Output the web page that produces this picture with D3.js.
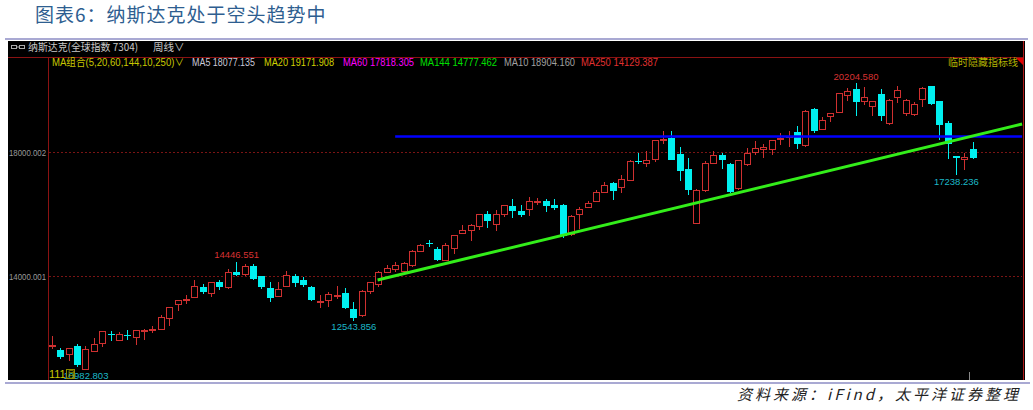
<!DOCTYPE html>
<html><head><meta charset="utf-8">
<script src="https://cdn.jsdelivr.net/npm/d3@7"></script>
<style>html,body{margin:0;padding:0;background:#fff;overflow:hidden}</style>
</head><body><svg id="c" width="1033" height="410"></svg>
<script>
// ---- data (weekly candles) ----
const opens = [11740,11610,11470,11710,11000,11580,11830,12105,11925,12095,12010,12215,12240,12280,12640,13085,13215,13300,13622,13445,13785,13622,14129,14054,14322,13968,13591,13332,13655,13978,13861,13645,13160,13194,13323,13441,12925,12710,13484,13732,14107,14216,14139,14323,14784,15035,14860,14516,14881,15377,15452,15590,15990,15668,15990,16258,16065,16152,16375,16397,16281,16281,15345,15990,16204,16397,16687,16977,16848,17087,17700,17645,17765,18370,18429,17926,17442,15700,16774,17635,17894,17603,16816,17581,17977,18065,18087,18420,18461,18645,18194,19377,18710,19139,19268,19829,20023,19645,19461,19861,18926,19752,19248,19216,19700,20106,19613,18926,17850,17765,18065];
const highs = [12040,11650,11670,11800,11710,11990,12195,12200,12170,12226,12235,12280,12355,12710,12980,13220,13355,13861,13710,13780,13839,14215,14446.551,14355,14355,14000,13785,13785,14139,14054,13946,13677,13355,13462,13677,13603,13140,13538,13800,14139,14345,14430,14420,14829,15022,15152,14914,15054,15320,15645,15660,16000,16065,16129,16290,16452,16281,16548,16494,16474,16474,16300,15960,16204,16419,16765,17010,17010,17226,17732,17945,18032,18370,18677,18655,18139,17797,16780,17687,18032,17945,17635,17720,18119,18332,18248,18370,18600,18677,18816,19323,19390,19106,19245,19900,20042,20204.58,20074,19640,20023,19680,20129,19680,19590,20070,20129,19630,19000,17860,17945,18300];
const lows = [11640,11300,11240,11040,10982.803,11540,11700,11900,11900,11935,11774,11905,12140,12226,12387,12870,13065,13290,13410,13300,13538,13570,14000,13968,13861,13570,13140,13300,13623,13623,13645,13171,12945,12977,13248,12925,12543.856,12657,13409,13645,14090,14107,14075,14290,14752,14935,14462,14500,14700,15323,15129,15452,15526,15430,15882,15862,15903,15935,16281,16042,16097,15220,15260,15506,16180,16380,16667,16442,16655,17070,17581,17494,17655,18248,17710,17042,16581,15690,16687,17620,17442,16655,16742,17548,17894,17784,17894,18200,18139,18065,18139,18603,18700,18945,19260,19645,19161,19516,19139,19000,18839,19571,19161,19139,19430,19516,18377,17765,17238.236,17410,17765];
const closes = [11770,11360,11670,11100,11620,11800,12195,12085,12118,12075,12226,12235,12260,12657,12975,13215,13240,13677,13462,13775,13645,14107,14022,14301,13892,13623,13268,13571,14022,13763,13700,13194,13185,13409,13377,12957,12624,13484,13785,14119,14236,14323,14410,14806,15000,15011,14484,14968,15313,15452,15645,15990,15752,15990,16281,16074,15958,16419,16395,16258,16171,15290,15935,16152,16333,16687,16926,16719,17119,17687,17680,17732,18355,18398,17732,17355,16765,16765,17635,17894,17710,16687,17710,17958,18119,18161,18355,18445,18516,18248,19300,18677,19032,19235,19894,19945,19590,19748,19622,19161,19668,19968,19668,19539,20055,19539,18861,18226,17780,17816,17797];

const yTickValues = [14000.001, 18000.002];
const yTickLabels = ["14000.001", "18000.002"];

const maNames = ["MA5","MA20","MA60","MA144","MA10","MA250"];
const maValues = ["18077.135","19171.908","17818.305","14777.462","18904.160","14129.387"];

const markIdx  = [4, 22, 36, 96, 108];
const markType = ["low","high","low","high","low"];

const trendIdx = [38.9, 115.9];
const trendVal = [13855, 18887];
const resistIdx = [41, 115.9];
const resistVal = 18484;

// ---- drawing ----
const svg = d3.select("#c");
const RED = "#cf3030", CYAN = "#00f0f0", AXRED = "#8a1212";
const NUMF = "'Liberation Sans', Arial, 'Noto Sans CJK SC', sans-serif";
const CJKF = "'Noto Sans CJK SC', 'Liberation Sans', sans-serif";

// title
svg.append("text").attr("x", 35).attr("y", 22).attr("font-family", CJKF)
  .attr("font-size", 19).attr("fill", "#2e5e90").attr("letter-spacing", 1)
  .text("图表6：纳斯达克处于空头趋势中");
svg.append("rect").attr("x", 5).attr("y", 38).attr("width", 1023).attr("height", 2).attr("fill", "#a9a9d3");

// black panel
svg.append("rect").attr("x", 8).attr("y", 41).attr("width", 1017).attr("height", 339).attr("fill", "#000");
svg.append("rect").attr("x", 5).attr("y", 382).attr("width", 1025).attr("height", 2).attr("fill", "#a9a9d3");

// frame lines
svg.append("line").attr("x1", 8).attr("x2", 1023).attr("y1", 57.5).attr("y2", 57.5).attr("stroke", AXRED);
svg.append("line").attr("x1", 48.5).attr("x2", 48.5).attr("y1", 57).attr("y2", 380).attr("stroke", AXRED);
svg.append("line").attr("x1", 1023.5).attr("x2", 1023.5).attr("y1", 41).attr("y2", 380).attr("stroke", "#b01818");
svg.append("path").attr("d", "M1016,58 L1023,58 L1023,65 Z").attr("fill", "#e00000");

// header
const hdr = svg.append("g");
hdr.append("rect").attr("x", 11.5).attr("y", 45.5).attr("width", 5).attr("height", 3).attr("fill", "none").attr("stroke", "#aaa");
hdr.append("rect").attr("x", 19.5).attr("y", 45.5).attr("width", 5).attr("height", 3).attr("fill", "none").attr("stroke", "#aaa");
hdr.append("line").attr("x1", 16.5).attr("x2", 19.5).attr("y1", 47).attr("y2", 47).attr("stroke", "#aaa");
hdr.append("text").attr("x", 28).attr("y", 51).attr("font-family", CJKF).attr("font-size", 10.5)
  .attr("fill", "#c8c8c8").attr("textLength", 110).attr("lengthAdjust", "spacingAndGlyphs")
  .text("纳斯达克(全球指数 7304)");
hdr.append("text").attr("x", 153).attr("y", 51).attr("font-family", CJKF).attr("font-size", 10.5)
  .attr("fill", "#c8c8c8").text("周线∨");

// MA legend
const leg = svg.append("g").attr("font-family", NUMF).attr("font-size", 10);
leg.append("text").attr("x", 52).attr("y", 66).attr("fill", "#c8c800")
  .attr("textLength", 132).attr("lengthAdjust", "spacingAndGlyphs").text("MA组合(5,20,60,144,10,250)∨");
const maX = [192, 264, 343, 420, 504, 581];
const maW = [63, 70, 71, 77, 71, 77];
const maCol = ["#c8c8d8", "#d0d000", "#ff00ff", "#00e000", "#a0a0a0", "#e03030"];
maNames.forEach((n, k) => {
  leg.append("text").attr("x", maX[k]).attr("y", 66).attr("fill", maCol[k])
    .attr("textLength", maW[k]).attr("lengthAdjust", "spacingAndGlyphs").text(n + " " + maValues[k]);
});
leg.append("text").attr("x", 948).attr("y", 66).attr("font-family", CJKF)
  .attr("textLength", 70).attr("lengthAdjust", "spacingAndGlyphs")
  .attr("fill", "#b4b400").text("临时隐藏指标线");

// scales
const x = d3.scaleLinear().domain([0, 110]).range([52, 972.7]);
const y = d3.scaleLinear().domain([14000.001, 18000.002]).range([275.5, 151.5]);

// grid + y labels
const g = svg.append("g");
yTickValues.forEach((v, k) => {
  const yy = Math.round(y(v)) + 0.5;
  g.append("line").attr("x1", 49).attr("x2", 1022).attr("y1", yy).attr("y2", yy)
    .attr("stroke", "#7a1414").attr("stroke-dasharray", "2,2");
  g.append("text").attr("x", 9).attr("y", yy + 3)
    .attr("font-family", NUMF).attr("font-size", 8.5).attr("fill", "#9a9a9a")
    .attr("textLength", 37).attr("lengthAdjust", "spacingAndGlyphs").text(yTickLabels[k]);
});

// candles
const cg = svg.append("g").attr("shape-rendering", "crispEdges");
opens.forEach((o, i) => {
  const c = closes[i], h = highs[i], l = lows[i];
  const X = Math.round(x(i)) - 3;
  const cx = X + 3.5;
  const yT = Math.round(y(Math.max(o, c))), yB = Math.round(y(Math.min(o, c)));
  const yH = Math.round(y(h)), yL = Math.round(y(l));
  if (c >= o) {
    const bh = Math.max(yB - yT, 1);
    cg.append("line").attr("x1", cx).attr("x2", cx).attr("y1", yH).attr("y2", yT).attr("stroke", RED);
    cg.append("line").attr("x1", cx).attr("x2", cx).attr("y1", yT + bh).attr("y2", yL).attr("stroke", RED);
    cg.append("rect").attr("x", X + 0.5).attr("y", yT + 0.5).attr("width", 6).attr("height", bh)
      .attr("fill", "#000").attr("stroke", RED);
  } else {
    const bh = Math.max(yB - yT, 1);
    cg.append("line").attr("x1", cx).attr("x2", cx).attr("y1", yH).attr("y2", yL).attr("stroke", CYAN);
    cg.append("rect").attr("x", X).attr("y", yT).attr("width", 7).attr("height", bh).attr("fill", CYAN);
  }
});

// resistance + trend lines
svg.append("line").attr("x1", x(resistIdx[0])).attr("x2", x(resistIdx[1]))
  .attr("y1", y(resistVal)).attr("y2", y(resistVal)).attr("stroke", "#0000ff").attr("stroke-width", 2.5);
svg.append("line").attr("x1", x(trendIdx[0])).attr("x2", x(trendIdx[1]))
  .attr("y1", y(trendVal[0])).attr("y2", y(trendVal[1])).attr("stroke", "#33ee1a").attr("stroke-width", 3);

// extreme labels
const ag = svg.append("g").attr("font-family", NUMF).attr("font-size", 9.5).attr("text-anchor", "middle");
markIdx.forEach((i, k) => {
  if (markType[k] === "high") {
    ag.append("text").attr("x", x(i) + 0.5).attr("y", y(highs[i]) - 3.5).attr("fill", "#d83232")
      .text(d3.format(".3f")(highs[i]));
  } else {
    ag.append("text").attr("x", x(i) + 0.5).attr("y", y(lows[i]) + 9.5).attr("fill", "#1cb8c8")
      .text(d3.format(".3f")(lows[i]));
  }
});

// bottom-left time label & small tick
svg.append("text").attr("x", 49).attr("y", 378).attr("font-family", NUMF).attr("font-size", 11)
  .attr("fill", "#c8c800").text("111");
svg.append("rect").attr("x", 66.5).attr("y", 369.5).attr("width", 8).attr("height", 9).attr("fill", "none").attr("stroke", "#8a8a00");
svg.append("text").attr("x", 67).attr("y", 377).attr("font-family", CJKF).attr("font-size", 8)
  .attr("fill", "#b0b000").text("月");
svg.append("line").attr("x1", 969.5).attr("x2", 969.5).attr("y1", 372).attr("y2", 380).attr("stroke", "#888");

// source
svg.append("text").attr("x", 737).attr("y", 400).attr("font-family", CJKF).attr("font-size", 15)
  .attr("font-style", "italic").attr("fill", "#222").attr("textLength", 281).attr("lengthAdjust", "spacing")
  .text("资料来源：iFind，太平洋证券整理");
</script></body></html>
